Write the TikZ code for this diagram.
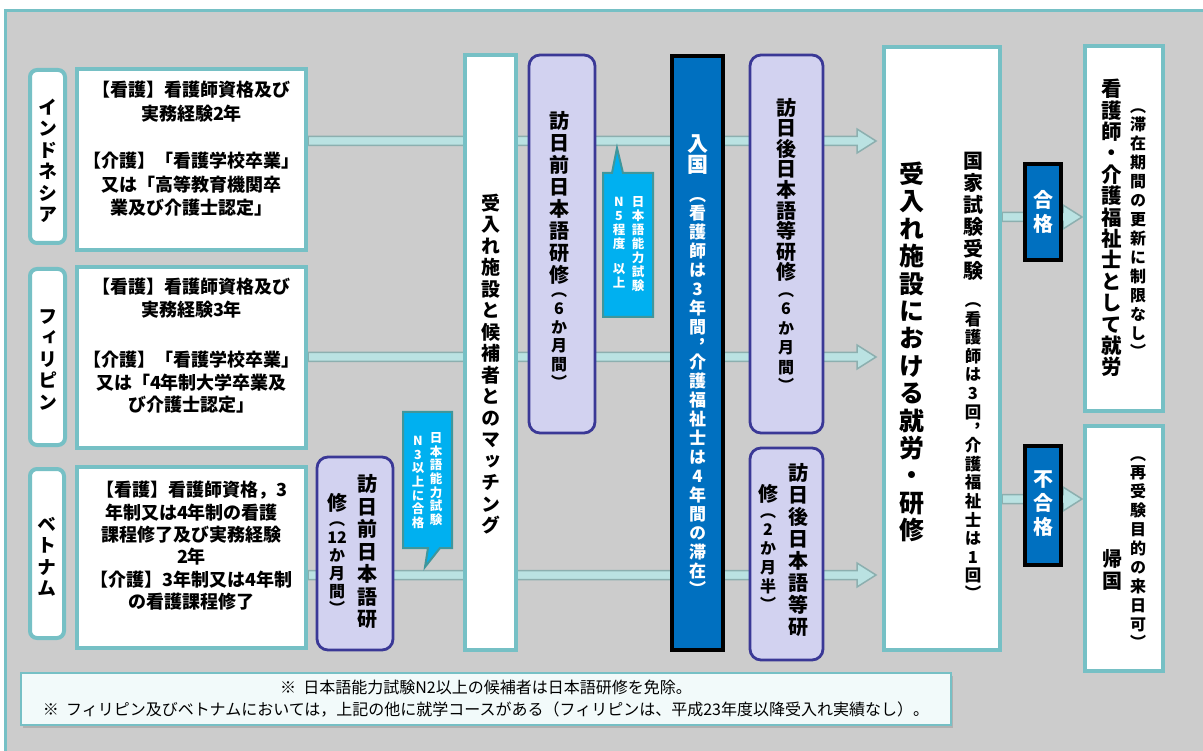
\documentclass[tikz,border=0pt]{standalone}
\usepackage{fontspec}
\newfontfamily\jp{Noto Sans CJK JP}
\newfontfamily\vjp{Noto Sans CJK JP}[RawFeature=+vert]
\usetikzlibrary{calc,shadows}
\definecolor{bgray}{RGB}{204,204,204}
\definecolor{tealb}{RGB}{118,192,197}
\definecolor{lav}{RGB}{210,210,240}
\definecolor{lavb}{RGB}{58,56,150}
\definecolor{eblue}{RGB}{0,112,192}
\definecolor{cyanf}{RGB}{0,176,240}
\definecolor{cyanb}{RGB}{64,150,155}
\definecolor{arrf}{RGB}{186,226,226}
\definecolor{arrb}{RGB}{140,175,175}
\definecolor{notef}{RGB}{242,250,250}

\ExplSyntaxOn
\dim_new:N \l__vt_pad_dim
\cs_new_protected:Npn \__vt_full:n #1
  {
    \hbox_to_wd:nn { 1em }
      { \hss \vrule height \dim_eval:n { .88em + \l__vt_pad_dim } depth \dim_eval:n { .12em + \l__vt_pad_dim } width \c_zero_dim #1 \hss }
  }
\cs_new_protected:Npn \__vt_open:n #1
  {
    \hbox_to_wd:nn { 1em }
      { \hss \vrule height \dim_eval:n { .5em + \l__vt_pad_dim / 2 } depth \dim_eval:n { \l__vt_pad_dim / 2 } width \c_zero_dim \raise .12em \hbox { \smash { #1 } } \hss }
  }
\cs_new_protected:Npn \__vt_close:n #1
  {
    \hbox_to_wd:nn { 1em }
      { \hss \vrule height \dim_eval:n { .5em + \l__vt_pad_dim / 2 } depth \dim_eval:n { \l__vt_pad_dim / 2 } width \c_zero_dim \lower .38em \hbox { \smash { #1 } } \hss }
  }
\cs_new_protected:Npn \__vt_item:n #1
  {
    \str_case:nnF { #1 }
      {
        { （ } { \__vt_open:n { #1 } }
        { ） } { \__vt_close:n { #1 } }
        { ， } { \__vt_close:n { #1 } }
        { 　 } { \__vt_close:n { } }
      }
      { \__vt_full:n { #1 } }
  }
\NewDocumentCommand \vt { O{2pt} m }
  {
    \vbox:n
      {
        \dim_set:Nn \l__vt_pad_dim { (#1) / 2 }
        \offinterlineskip
        \tl_map_inline:nn { #2 } { \__vt_item:n { ##1 } }
      }
  }
\ExplSyntaxOff

\pgfdeclarelayer{back}\pgfdeclarelayer{mid}
\pgfsetlayers{back,mid,main}

\tikzset{
  tbox/.style={draw=tealb, line width=4pt, fill=white, inner sep=0pt},
  cbox/.style={tbox, rounded corners=7pt},
  lbox/.style={draw=lavb, line width=2.8pt, fill=lav, rounded corners=11pt, inner sep=0pt},
  bbox/.style={draw=black, line width=4pt, fill=eblue, inner sep=0pt},
  callout/.style={draw=cyanb, line width=2pt, fill=cyanf},
  fat/.style={draw=arrb, line width=1.5pt, fill=arrf},
  vcol/.style={inner sep=0pt, anchor=north, font=\vjp\bfseries\fontsize{#1}{#1}\selectfont},
  htxt/.style={inner sep=0pt, align=center, anchor=north, font=\jp\bfseries\fontsize{18}{#1}\selectfont},
}
\newcommand\fatarrow[2]{%
  \draw[fat] ($(#1)+(0,-4.5)$) -- ($(#2)+(-19,-4.5)$) -- ($(#2)+(-19,-12)$) -- (#2)
    -- ($(#2)+(-19,12)$) -- ($(#2)+(-19,4.5)$) -- ($(#1)+(0,4.5)$) -- cycle;}

\begin{document}
\begin{tikzpicture}[x=1pt,y=-1pt]
\useasboundingbox (0,0) rectangle (1203,751);

% boxes
\node[cbox, minimum width=35pt, minimum height=173pt] (indoC) at (47.5,156.5) {};
\node[tbox, minimum width=229pt, minimum height=181pt] (indoT) at (191.5,159.5) {};
\node[cbox, minimum width=35pt, minimum height=176pt] (philC) at (47.5,357) {};
\node[tbox, minimum width=229pt, minimum height=181pt] (philT) at (191.5,357.5) {};
\node[cbox, minimum width=34pt, minimum height=169pt] (vietC) at (47,553.5) {};
\node[tbox, minimum width=229pt, minimum height=181pt] (vietT) at (191.5,557.5) {};
\node[lbox, minimum width=76pt, minimum height=193pt] (vietPre) at (355,553.5) {};
\node[tbox, minimum width=51pt, minimum height=595pt] (match) at (490.5,352.5) {};
\node[lbox, minimum width=66pt, minimum height=378pt] (preJP) at (562,244) {};
\node[bbox, minimum width=51pt, minimum height=594pt] (entry) at (697.5,353) {};
\node[lbox, minimum width=73pt, minimum height=378pt] (post6) at (786.5,244) {};
\node[lbox, minimum width=73pt, minimum height=212pt] (post2) at (786.5,554) {};
\node[tbox, minimum width=116pt, minimum height=603pt] (work) at (942,348.5) {};
\node[bbox, minimum width=36pt, minimum height=96pt] (pass) at (1043,212) {};
\node[bbox, minimum width=36pt, minimum height=119pt] (fail) at (1043,505.5) {};
\node[tbox, minimum width=78pt, minimum height=365pt] (employ) at (1124,228.5) {};
\node[tbox, minimum width=78pt, minimum height=245pt] (home) at (1124,548.5) {};
\node[draw=tealb, line width=1.5pt, fill=notef, minimum width=930pt, minimum height=52pt, inner sep=0pt,
  drop shadow={shadow xshift=2pt, shadow yshift=-2.5pt, opacity=.35}] (note) at (486,699) {};

% callouts
\draw[callout] (603,173) -- (612,173) -- (617,148) -- (623,173) -- (653,173) -- (653,317) -- (603,317) -- cycle;
\draw[callout] (403,412) -- (452,412) -- (452,548) -- (440,548) -- (425,567) -- (428,548) -- (403,548) -- cycle;

% horizontal texts
\node[htxt=23.5] (indoTx) at (191.5,81) {【看護】看護師資格及び\\実務経験2年\\[24pt]【介護】「看護学校卒業」\\又は「高等教育機関卒\\業及び介護士認定」};
\node[htxt=22.8] (philTx) at (191.5,278) {【看護】看護師資格及び\\実務経験3年\\[27pt]【介護】「看護学校卒業」\\又は「4年制大学卒業及\\び介護士認定」};
\node[htxt=22.4] (vietTx) at (191.5,481) {【看護】看護師資格，3\\年制又は4年制の看護\\課程修了及び実務経験\\2年\\【介護】3年制又は4年制\\の看護課程修了};
\node[inner sep=0pt, align=center, font=\jp\fontsize{16}{22}\selectfont] (noteTx) at (note.center) {※\ \ 日本語能力試験N2以上の候補者は日本語研修を免除。\\※\ \ フィリピン及びベトナムにおいては，上記の他に就学コースがある（フィリピンは、平成23年度以降受入れ実績なし）。};

% vertical texts
\node[vcol=19] (indoN) at (47.5,96) {\vt[2.5pt]{インドネシア}};
\node[vcol=19] (philN) at (47.5,305) {\vt[2.5pt]{フィリピン}};
\node[vcol=19] (vietN) at (47,513) {\vt[2.5pt]{ベトナム}};
\node[vcol=20] (vpR) at (367,472.5) {\vt[2.5pt]{訪日前日本語研}};
\node[vcol=20] (vpL1) at (337,493) {\vt[0pt]{修}};
\node[vcol=16] (vpL2) at (337,519) {\vt[2pt]{（{12}か月間）}};
\node[vcol=19] (matchTx) at (490.5,192) {\vt[2.5pt]{受入れ施設と候補者とのマッチング}};
\node[vcol=20] (preJP1) at (559,110) {\vt[2pt]{訪日前日本語研修}};
\node[vcol=16] (preJP2) at (559,290) {\vt[2.5pt]{（6か月間）}};
\node[vcol=12.5, text=white] (n5R) at (638,195) {\vt[1.4pt]{日本語能力試験}};
\node[vcol=12.5, text=white] (n5L) at (619,195) {\vt[1.4pt]{N5程度　以上}};
\node[vcol=12.5, text=white] (n3R) at (436,431) {\vt[1.1pt]{日本語能力試験}};
\node[vcol=12.5, text=white] (n3L) at (418,434) {\vt[1.1pt]{N3以上に合格}};
\node[vcol=21, text=white] (entry1) at (697.5,133) {\vt[0pt]{入国}};
\node[vcol=17, text=white] (entry2) at (697.5,194) {\vt[2pt]{（看護師は3年間，介護福祉士は4年間の滞在）}};
\node[vcol=20] (post6a) at (786,97) {\vt[0.6pt]{訪日後日本語等研修}};
\node[vcol=16] (post6b) at (786,289) {\vt[3.5pt]{（6か月間）}};
\node[vcol=20] (post2R) at (798,462) {\vt[2pt]{訪日後日本語等研}};
\node[vcol=20] (post2L1) at (768,484) {\vt[0pt]{修}};
\node[vcol=16] (post2L2) at (768,510) {\vt[3pt]{（2か月半）}};
\node[vcol=25] (work1) at (912,160) {\vt[2.4pt]{受入れ施設における就労・研修}};
\node[vcol=20] (work2) at (973,150) {\vt[2pt]{国家試験受験}};
\node[vcol=16.5] (work3) at (973,300) {\vt[2.1pt]{（看護師は3回，介護福祉士は1回）}};
\node[vcol=20, anchor=center, text=white] (passTx) at (pass.center) {\vt[4pt]{合格}};
\node[vcol=20, anchor=center, text=white] (failTx) at (1043,503) {\vt[4pt]{不合格}};
\node[vcol=20.5] (emp1) at (1112,78) {\vt[0.9pt]{看護師・介護福祉士として就労}};
\node[vcol=16] (emp2) at (1138,105) {\vt[3pt]{（滞在期間の更新に制限なし）}};
\node[vcol=20] (home1) at (1112,548) {\vt[2pt]{帰国}};
\node[vcol=16] (home2) at (1138,453) {\vt[3pt]{（再受験目的の来日可）}};

% arrows
\coordinate (iA) at (indoT.east |- 0,141);
\coordinate (iB) at (876,141);
\coordinate (pA) at (philT.east |- 0,357);
\coordinate (pB) at (876,357);
\coordinate (vA) at (vietT.east |- 0,575);
\coordinate (vB) at (876,575);
\coordinate (gA) at (work.east |- 0,217);
\coordinate (gB) at (1082,217);
\coordinate (fA) at (work.east |- 0,499);
\coordinate (fB) at (1082,499);
\begin{pgfonlayer}{mid}
\fatarrow{iA}{iB}
\fatarrow{pA}{pB}
\fatarrow{vA}{vB}
\fatarrow{gA}{gB}
\fatarrow{fA}{fB}
\end{pgfonlayer}

\begin{pgfonlayer}{back}
\fill[white] (0,0) rectangle (1203,751);
\fill[bgray] (5,11) rectangle (1203,751);
\draw[tealb, line width=3pt] (5,751) -- (5,11) -- (1203,11);
\end{pgfonlayer}
\end{tikzpicture}
\end{document}
